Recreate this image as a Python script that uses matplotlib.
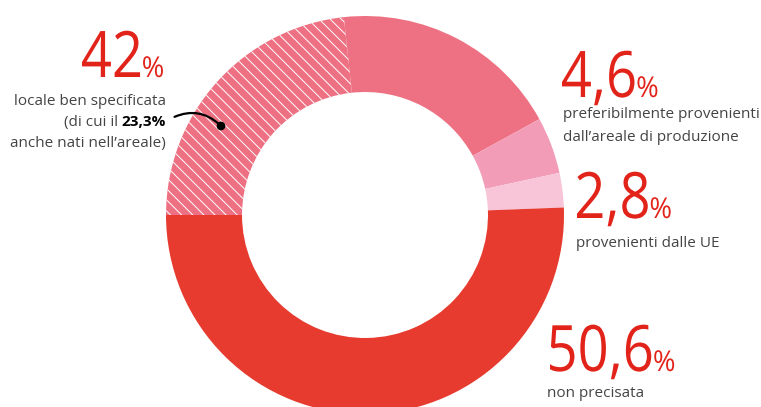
import matplotlib
matplotlib.use("Agg")
import matplotlib.pyplot as plt
from matplotlib.patches import PathPatch, Circle, Wedge
from matplotlib.textpath import TextPath
from matplotlib.font_manager import FontProperties
from matplotlib.transforms import Affine2D

plt.rcParams["font.family"] = ["Open Sans", "DejaVu Sans"]
plt.rcParams["hatch.linewidth"] = 0.7

# share of each origin, clockwise from 9 o'clock
segments = ["locale, anche nati nell'areale", "locale ben specificata",
            "preferibilmente dall'areale", "provenienti dalle UE", "non precisata"]
shares = [23.3, 18.7, 4.6, 2.8, 50.6]
colors = ["#ED7182", "#ED7182", "#F29CB8", "#F7C4D8", "#E63B2E"]
hatched = [True, False, False, False, False]

# headline numbers and their captions
big_values = ["42", "4,6", "2,8", "50,6"]
captions = [
    ["locale ben specificata", "(di cui il ", "anche nati nell\u2019areale)"],
    ["preferibilmente provenienti", "dall\u2019areale di produzione"],
    ["provenienti dalle UE"],
    ["non precisata"],
]
sub_share = "23,3%"

RED = "#E2231A"
GREY = "#444444"
W, H = 761, 407

fig = plt.figure(figsize=(W / 100, H / 100), dpi=100)

# donut
cx, cy, r = 365, 215, 199
pie_ax = fig.add_axes([(cx - r) / W, (H - cy - r) / H, 2 * r / W, 2 * r / H])
wedges, _ = pie_ax.pie(shares, colors=colors, startangle=180, counterclock=False,
                       radius=1.0, wedgeprops=dict(width=0.382, linewidth=0))
for w, h in zip(wedges, hatched):
    if h:
        over = Wedge(w.center, w.r, w.theta1, w.theta2, width=w.width,
                     facecolor="none", edgecolor="white", linewidth=0,
                     hatch="\\\\\\")
        pie_ax.add_patch(over)
pie_ax.set_xlim(-1, 1)
pie_ax.set_ylim(-1, 1)
pie_ax.set_aspect("equal")
pie_ax.axis("off")

# overlay in pixel coordinates for the labels
ax = fig.add_axes([0, 0, 1, 1])
ax.set_xlim(0, W)
ax.set_ylim(H, 0)
ax.axis("off")

num_font = FontProperties(family="Open Sans")


def big_number(x, y, s, size=64, squeeze=0.85, gap=3):
    path = TextPath((0, 0), s, size=size, prop=num_font)
    ext = path.get_extents()
    tr = Affine2D().translate(-ext.x0, 0).scale(squeeze, -1).translate(x, y) + ax.transData
    ax.add_patch(PathPatch(path, transform=tr, facecolor=RED, edgecolor="none"))
    pct_x = x + (ext.x1 - ext.x0) * squeeze + gap
    pct = TextPath((0, 0), "%", size=size * 0.45, prop=num_font)
    px0 = pct.get_extents().x0
    tr = Affine2D().translate(-px0, 0).scale(0.95, -1).translate(pct_x, y) + ax.transData
    ax.add_patch(PathPatch(pct, transform=tr, facecolor=RED, edgecolor="none"))


fs = 11
big_number(82, 77, big_values[0])
ax.text(166, 105, captions[0][0], ha="right", va="baseline", fontsize=fs, color=GREY)
bold = ax.text(166, 126, sub_share, ha="right", va="baseline", fontsize=fs,
               color="black", fontweight="bold")
fig.canvas.draw()
bb = bold.get_window_extent().transformed(ax.transData.inverted())
ax.text(min(bb.x0, bb.x1), 126, captions[0][1], ha="right", va="baseline",
        fontsize=fs, color=GREY)
ax.text(166, 147, captions[0][2], ha="right", va="baseline", fontsize=fs, color=GREY)
ax.annotate("", xy=(221, 126), xytext=(172, 118),
            arrowprops=dict(arrowstyle="-", color="black", lw=1.6,
                            connectionstyle="arc3,rad=-0.35"))
ax.add_patch(Circle((221, 126), 3.6, color="black"))

big_number(562, 97, big_values[1])
ax.text(563, 118, captions[1][0], ha="left", va="baseline", fontsize=fs, color=GREY)
ax.text(563, 141, captions[1][1], ha="left", va="baseline", fontsize=fs, color=GREY)

big_number(577, 218, big_values[2])
ax.text(576, 247, captions[2][0], ha="left", va="baseline", fontsize=fs, color=GREY)

big_number(550, 371, big_values[3])
ax.text(547, 397, captions[3][0], ha="left", va="baseline", fontsize=fs, color=GREY)

fig.savefig("out.png", dpi=100)
